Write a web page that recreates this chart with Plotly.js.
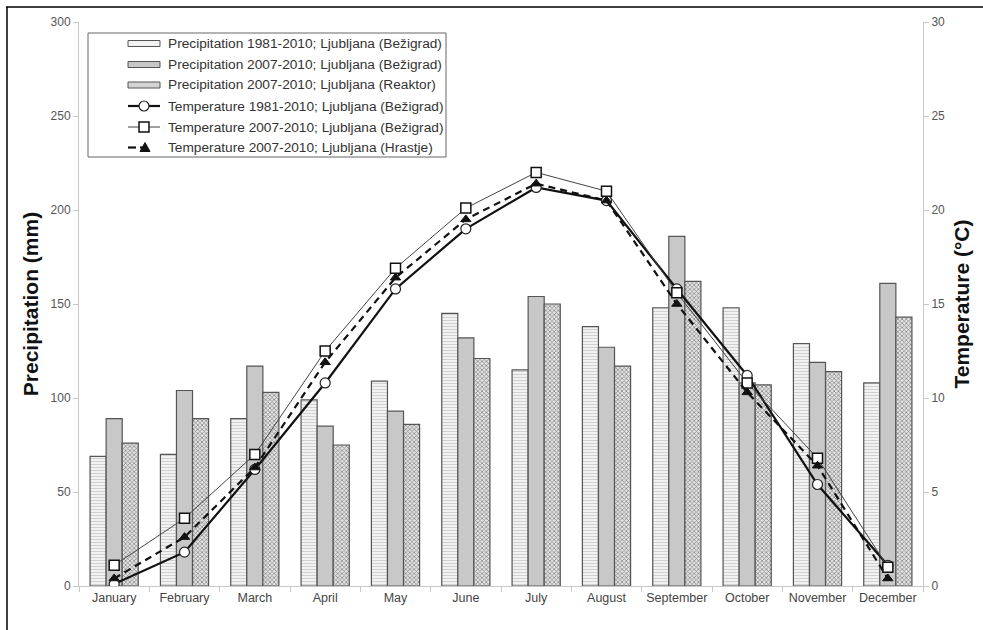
<!DOCTYPE html>
<html>
<head>
<meta charset="utf-8">
<script src="https://cdn.plot.ly/plotly-3.0.1.min.js"></script>
<style>html,body{margin:0;padding:0;background:#fff;}#chart{width:983px;height:630px;}</style>
</head>
<body>
<div id="chart"></div>
<script>
const months = ["January","February","March","April","May","June","July","August","September","October","November","December"];
const precip1981Bez = [69, 70, 89, 99, 109, 145, 115, 138, 148, 148, 129, 108];
const precip2007Bez = [89, 104, 117, 85, 93, 132, 154, 127, 186, 108, 119, 161];
const precip2007Rea = [76, 89, 103, 75, 86, 121, 150, 117, 162, 107, 114, 143];
const temp1981Bez = [0.1, 1.8, 6.2, 10.8, 15.8, 19.0, 21.2, 20.5, 15.8, 11.2, 5.4, 1.1];
const temp2007Bez = [1.1, 3.6, 7.0, 12.5, 16.9, 20.1, 22.0, 21.0, 15.6, 10.8, 6.8, 1.0];
const temp2007Hra = [0.4, 2.6, 6.3, 11.9, 16.4, 19.5, 21.4, 20.5, 15.0, 10.3, 6.4, 0.4];
const names = [
  "Precipitation 1981-2010; Ljubljana (Bežigrad)",
  "Precipitation 2007-2010; Ljubljana (Bežigrad)",
  "Precipitation 2007-2010; Ljubljana (Reaktor)",
  "Temperature 1981-2010; Ljubljana (Bežigrad)",
  "Temperature 2007-2010; Ljubljana (Bežigrad)",
  "Temperature 2007-2010; Ljubljana (Hrastje)"
];

const FONT = "Liberation Sans, Arial, sans-serif";
const barLine = {color: "#555", width: 1.2};
const stripePattern = {shape: "-", fgcolor: "#d0d0d0", bgcolor: "#f2f2f2", size: 3, solidity: 0.35};
const checkPattern = {shape: "x", fgcolor: "#7a7a7a", bgcolor: "#e4e4e4", size: 3, solidity: 0.4};

const traces = [
  {type: "bar", x: months, y: precip1981Bez, name: names[0], yaxis: "y", showlegend: false,
   marker: {color: "#efefef", line: barLine, pattern: stripePattern}},
  {type: "bar", x: months, y: precip2007Bez, name: names[1], yaxis: "y", showlegend: false,
   marker: {color: "#c8c8c8", line: barLine}},
  {type: "bar", x: months, y: precip2007Rea, name: names[2], yaxis: "y", showlegend: false,
   marker: {color: "#e6e6e6", line: barLine, pattern: checkPattern}},
  {type: "scatter", mode: "lines+markers", x: months, y: temp1981Bez, name: names[3], yaxis: "y2", showlegend: false,
   line: {color: "#111", width: 2.2},
   marker: {symbol: "circle", size: 10, color: "#fff", line: {color: "#222", width: 1.2}}},
  {type: "scatter", mode: "lines+markers", x: months, y: temp2007Bez, name: names[4], yaxis: "y2", showlegend: false,
   line: {color: "#444", width: 1},
   marker: {symbol: "square", size: 10, color: "#fff", line: {color: "#111", width: 1.5}}},
  {type: "scatter", mode: "lines+markers", x: months, y: temp2007Hra, name: names[5], yaxis: "y2", showlegend: false,
   line: {color: "#111", width: 2.2, dash: "7px,5px"},
   marker: {symbol: "triangle-up", size: 9, color: "#111", line: {color: "#111", width: 1}}}
];

// plot area in pixels
const L = 79, R = 923, T = 22, B = 586;
const px = x => (x - L) / (R - L);
const py = y => (B - y) / (B - T);

const rowsY = [43.5, 64.5, 85, 106, 127, 147.5];
const symX0 = 128, symX1 = 160, symXc = 144, textX = 166;

const shapes = [
  // legend box
  {type: "rect", xref: "paper", yref: "paper", x0: px(88), x1: px(446), y0: py(157), y1: py(33),
   line: {color: "#666", width: 1}, fillcolor: "#fff", layer: "above"},
  // outer frame
  {type: "line", xref: "paper", yref: "paper", x0: px(6), x1: px(983), y0: py(7), y1: py(7),
   line: {color: "#000", width: 1.5}},
  {type: "line", xref: "paper", yref: "paper", x0: px(7), x1: px(7), y0: py(7), y1: py(632),
   line: {color: "#000", width: 1.5}}
];
// bar legend symbols
const barFills = ["#f2f2f2", "#c8c8c8", "#d4d4d4"];
for (let i = 0; i < 3; i++) {
  shapes.push({type: "rect", xref: "paper", yref: "paper", x0: px(symX0), x1: px(symX1),
               y0: py(rowsY[i] + 3), y1: py(rowsY[i] - 3), line: {color: "#555", width: 1},
               fillcolor: barFills[i], layer: "above"});
}
// line legend symbols
shapes.push({type: "line", xref: "paper", yref: "paper", x0: px(symX0), x1: px(symX1), y0: py(rowsY[3]), y1: py(rowsY[3]),
             line: {color: "#111", width: 2.2}, layer: "above"});
shapes.push({type: "circle", xref: "paper", yref: "paper", x0: px(symXc - 5), x1: px(symXc + 5),
             y0: py(rowsY[3] + 5), y1: py(rowsY[3] - 5), line: {color: "#222", width: 1.2}, fillcolor: "#fff", layer: "above"});
shapes.push({type: "line", xref: "paper", yref: "paper", x0: px(symX0), x1: px(symX1), y0: py(rowsY[4]), y1: py(rowsY[4]),
             line: {color: "#444", width: 1}, layer: "above"});
shapes.push({type: "rect", xref: "paper", yref: "paper", x0: px(symXc - 5), x1: px(symXc + 5),
             y0: py(rowsY[4] + 5), y1: py(rowsY[4] - 5), line: {color: "#111", width: 1.5}, fillcolor: "#fff", layer: "above"});
shapes.push({type: "line", xref: "paper", yref: "paper", x0: px(symX0), x1: px(symX0 + 8), y0: py(rowsY[5]), y1: py(rowsY[5]),
             line: {color: "#111", width: 2.2}, layer: "above"});
shapes.push({type: "line", xref: "paper", yref: "paper", x0: px(symXc - 4), x1: px(symXc + 2), y0: py(rowsY[5]), y1: py(rowsY[5]),
             line: {color: "#111", width: 2.2}, layer: "above"});
{
  const cx = symXc + 1, cy = rowsY[5];
  const p = `M ${px(cx - 5)} ${py(cy + 4)} L ${px(cx + 5)} ${py(cy + 4)} L ${px(cx)} ${py(cy - 5)} Z`;
  shapes.push({type: "path", xref: "paper", yref: "paper", path: p, line: {color: "#111", width: 1},
               fillcolor: "#111", layer: "above"});
}

const annotations = names.map((n, i) => ({
  xref: "paper", yref: "paper", x: px(textX), y: py(rowsY[i]), xanchor: "left", yanchor: "middle",
  text: n, showarrow: false, font: {family: FONT, size: 13.7, color: "#333"}
}));

const axisCommon = {
  showline: true, linecolor: "#c8c8c8", linewidth: 1,
  ticks: "outside", ticklen: 5, tickcolor: "#c8c8c8",
  showgrid: false, zeroline: false,
  tickfont: {family: FONT, size: 12, color: "#555"}
};

const layout = {
  width: 983, height: 630,
  margin: {l: L, r: 983 - R, t: T, b: 630 - B},
  paper_bgcolor: "#fff", plot_bgcolor: "#fff",
  barmode: "group", bargap: 0.315, bargroupgap: 0,
  font: {family: FONT, color: "#333"},
  showlegend: false,
  xaxis: Object.assign({}, axisCommon, {type: "category", tickson: "boundaries", range: [-0.5, 11.5],
           tickangle: 0, tickfont: {family: FONT, size: 12.5, color: "#444"}}),
  yaxis: Object.assign({}, axisCommon, {range: [0, 300], dtick: 50,
           title: {text: "Precipitation (mm)", standoff: 6,
                   font: {family: FONT, size: 21, color: "#111", weight: "bold"}}}),
  yaxis2: Object.assign({}, axisCommon, {range: [0, 30], dtick: 5, overlaying: "y", side: "right",
           title: {text: "Temperature (°C)", standoff: 10,
                   font: {family: FONT, size: 21, color: "#111", weight: "bold"}}}),
  shapes: shapes,
  annotations: annotations
};

Plotly.newPlot("chart", traces, layout, {displayModeBar: false, staticPlot: true});
</script>
</body>
</html>
